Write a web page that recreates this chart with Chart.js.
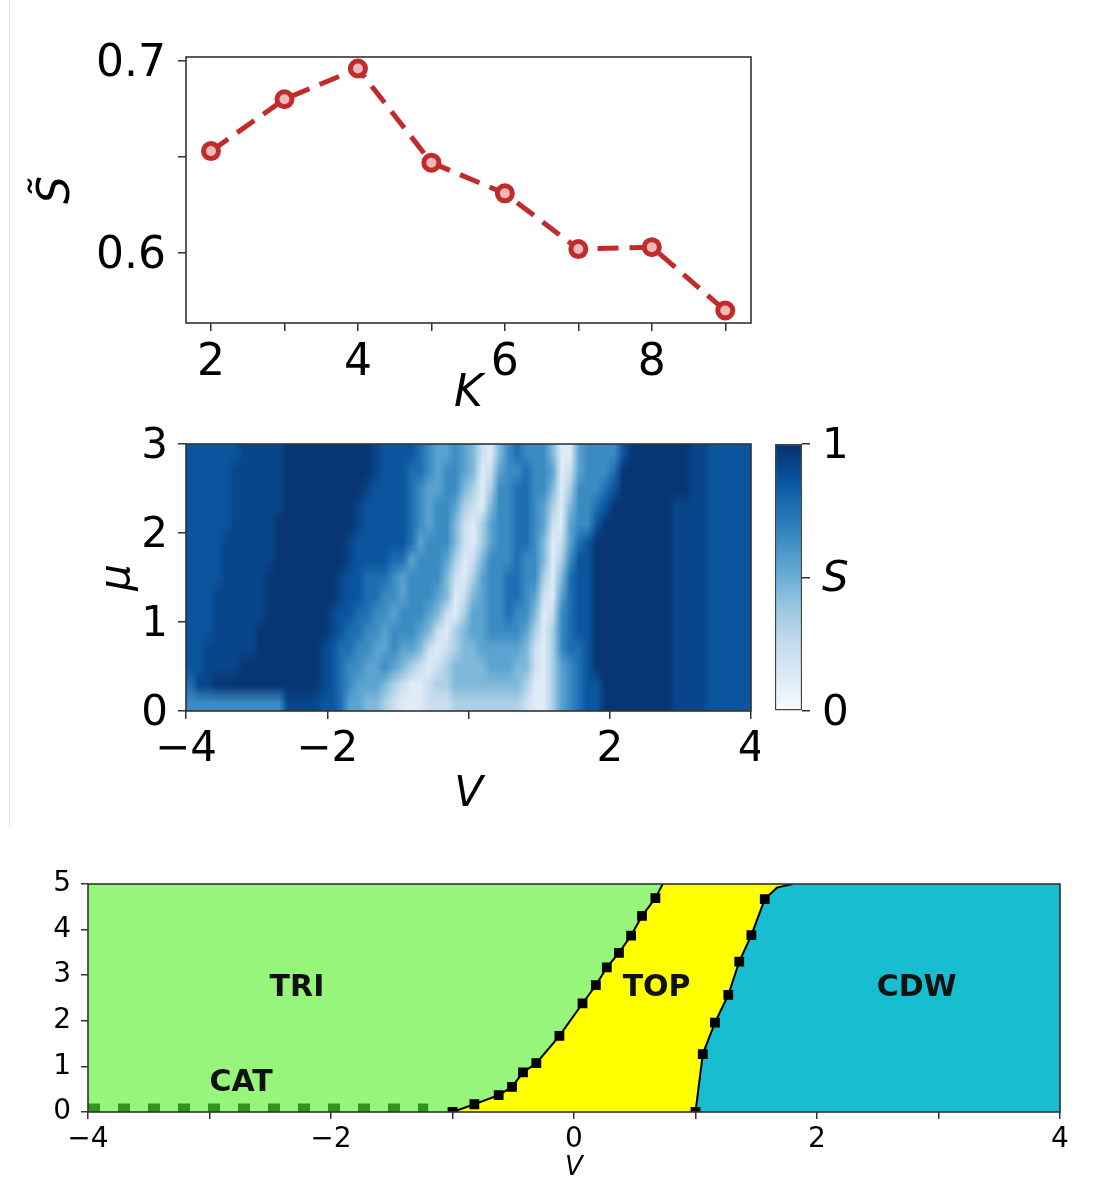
<!DOCTYPE html>
<html>
<head>
<meta charset="utf-8">
<script src="https://cdn.jsdelivr.net/npm/chart.js@4.4.1/dist/chart.umd.min.js"></script>
<style>
  html, body { margin: 0; padding: 0; background: #fff; }
  body { width: 1095px; height: 1190px; position: relative; overflow: hidden; }
  canvas { position: absolute; }
  #edge { position: absolute; left: 9px; top: 0; height: 828px; border-left: 1px solid #e6e6e6; }
</style>
</head>
<body>
<div id="edge"></div>
<canvas id="c1" width="860" height="420" style="left:0;top:0"></canvas>
<canvas id="heat" width="64" height="15" style="left:186px;top:444px;width:565px;height:267px"></canvas>
<canvas id="c2" width="760" height="420" style="left:0;top:420px"></canvas>
<canvas id="c2bar" width="140" height="420" style="left:760px;top:420px"></canvas>
<canvas id="c3" width="1095" height="350" style="left:0;top:840px"></canvas>
<script>
'use strict';

// ---- top panel: S~ vs K
let kValues = [2, 3, 4, 5, 6, 7, 8, 9];
let sTilde = [0.653, 0.680, 0.696, 0.647, 0.631, 0.602, 0.603, 0.570];
let kTicks = [2, 3, 4, 5, 6, 7, 8, 9];
let sTicks = [0.6, 0.65, 0.7];

// ---- middle panel: S(V, mu) heat map
let heatMu = [0.0, 0.2, 0.4, 0.6, 0.8, 1.0, 1.2, 1.4, 1.6, 1.8, 2.0, 2.2, 2.4, 2.6, 2.8]; // row bottoms
let heatMuStep = 0.2;
let heatVStep = 0.125;
let heatCodes = '0123456789a';
let heatLevels = [0.03, 0.12, 0.22, 0.33, 0.45, 0.55, 0.65, 0.76, 0.86, 0.98, 0.92]; // S for each code
// S codes, top row first, one group of 8 cells per unit of V
let heatRows = [
    '888888aa aaa99999 99999a88 88765565 42146766 64115666 68999999 9aa88888',
    '88888aaa aaa99999 99999a88 87765665 41256676 65125666 79999999 9aa88888',
    '88888aaa aaa99999 9999a888 87655664 31366776 64136667 89999999 9aa88888',
    '88888aaa aaa99999 999a8888 87656653 21466776 53146678 9999999a aaa88888',
    '88888aaa aa999999 999a8888 87656642 13566776 52156689 9999999a aaa88888',
    '8888aaaa aa999999 99a88888 87566642 13566776 41257899 9999999a aaa88888',
    '8888aaaa aa999999 99a88887 75666531 24666766 41368899 9999999a aaa88888',
    '8888aaaa a9999999 9a887776 56666421 35667766 31478899 9999999a aaa88888',
    '888aaaaa a9999999 9a887766 56665412 45667765 21578899 9999999a aaa88888',
    '888aaaaa a9999999 a8877665 66654213 55667664 12678899 9999999a aaa88888',
    '888aaaaa 99999999 a8776656 66542134 55666653 13678899 9999999a aaa88888',
    '88aaaaaa 9999999a 87766556 55421234 45555542 13677899 9999999a aaa88888',
    '88aaaa99 9999999a 87665565 43212344 44555442 13567899 9999999a aaa88888',
    '7aa99999 9999999a 87655543 21123344 44444431 13567889 9999999a aaa88888',
    '66666666 666aaaa8 87554432 11122233 33333321 13567889 9999999a aaa88888'
];
let heatVTicks = [-4, -2, 0, 2, 4];
let heatMuTicks = [0, 1, 2, 3];
let barTicks = [0, 0.5, 1];

// ---- bottom panel: phase diagram
let leftV = [-1.0, -0.82, -0.62, -0.51, -0.42, -0.31, -0.12, 0.07, 0.18, 0.27, 0.37, 0.47, 0.56, 0.67];
let leftMu = [0.0, 0.17, 0.37, 0.55, 0.87, 1.07, 1.67, 2.38, 2.78, 3.17, 3.49, 3.87, 4.30, 4.69];
let leftTopV = [0.73];
let leftTopMu = [5.0];
let rightV = [1.0, 1.06, 1.16, 1.27, 1.36, 1.46, 1.57];
let rightMu = [0.0, 1.27, 1.96, 2.57, 3.30, 3.88, 4.67];
let rightTopV = [1.67, 1.8];
let rightTopMu = [4.92, 5.0];
let catV = [-4, -1.2];
let catMu = [0.09, 0.09];
let labelText = ['TRI', 'TOP', 'CDW', 'CAT'];
let labelV = [-2.28, 0.68, 2.82, -2.74];
let labelMu = [2.72, 2.72, 2.72, 0.64];
let phaseVTicks = [-4, -3, -2, -1, 0, 1, 2, 3, 4];
let phaseMuTicks = [0, 1, 2, 3, 4, 5];

Chart.defaults.font.family = "'DejaVu Sans', sans-serif";
Chart.defaults.color = '#000';

let blueStops = ['#f7fbff', '#deebf7', '#c6dbef', '#9ecae1', '#6baed6', '#4292c6', '#2171b5', '#08519c', '#08306b'];

function hex(h) {
    return [parseInt(h.slice(1, 3), 16), parseInt(h.slice(3, 5), 16), parseInt(h.slice(5, 7), 16)];
}
function blues(t) {
    let p = Math.max(0, Math.min(1, t)) * (blueStops.length - 1);
    let i = Math.min(Math.floor(p), blueStops.length - 2);
    let f = p - i;
    let a = hex(blueStops[i]), b = hex(blueStops[i + 1]);
    let c = a.map((v, n) => Math.round(v + (b[n] - v) * f));
    return `rgb(${c[0]},${c[1]},${c[2]})`;
}
function minus(v) {
    return v < 0 ? '\u2212' + Math.abs(v) : String(v);
}
// fixed axis box size, no extra room for overhanging labels
function fixBox(size) {
    return s => {
        if (s.isHorizontal()) s.height = size; else s.width = size;
        s.paddingTop = 0; s.paddingBottom = 0; s.paddingLeft = 0; s.paddingRight = 0;
    };
}

let framePlugin = {
    id: 'frame',
    afterDatasetsDraw(chart) {
        let a = chart.chartArea;
        let ctx = chart.ctx;
        ctx.save();
        ctx.strokeStyle = '#333';
        ctx.lineWidth = 1.6;
        ctx.strokeRect(a.left, a.top, a.right - a.left, a.bottom - a.top);
        ctx.restore();
    }
};

let tickGrid = { drawOnChartArea: false, drawTicks: true, tickLength: 8, color: '#333', lineWidth: 1.5 };

// ---------- top chart
new Chart(document.getElementById('c1'), {
    type: 'line',
    data: {
        datasets: [{
            data: kValues.map((k, i) => ({ x: k, y: sTilde[i] })),
            borderColor: '#c22b2b',
            borderWidth: 5,
            borderDash: [21, 11],
            pointRadius: 7.5,
            pointBorderWidth: 5,
            pointBackgroundColor: '#f0b8b8',
            pointBorderColor: '#c22b2b',
            tension: 0
        }]
    },
    options: {
        responsive: false, animation: false, events: [], devicePixelRatio: 1,
        layout: { padding: { top: 57, right: 109, left: 0, bottom: 0 } },
        plugins: { legend: { display: false }, tooltip: { enabled: false } },
        scales: {
            x: {
                type: 'linear', min: 1.66, max: 9.35,
                afterFit: fixBox(97),
                afterBuildTicks: s => { s.ticks = kTicks.map(v => ({ value: v })); },
                ticks: { callback: v => (v % 2 === 0 ? String(v) : ''), font: { size: 44 }, padding: 6, autoSkip: false, maxRotation: 0 },
                grid: tickGrid, border: { display: false },
                title: { display: true, text: 'K', font: { size: 44, style: 'italic', lineHeight: 1 }, padding: { top: 0, bottom: 3 } }
            },
            y: {
                min: 0.5635, max: 0.702,
                afterFit: fixBox(186),
                afterBuildTicks: s => { s.ticks = sTicks.map(v => ({ value: v })); },
                ticks: { callback: v => (v === 0.65 ? '' : v.toFixed(1)), font: { size: 44 }, padding: 12, labelOffset: 4, autoSkip: false },
                grid: tickGrid, border: { display: false },
                title: { display: true, text: 'S\u0303', font: { size: 44, style: 'italic', lineHeight: 1 }, padding: { top: 36, bottom: 0 } }
            }
        }
    },
    plugins: [framePlugin]
});

// ---------- heat map axes (transparent plot area)
let heatAxes = new Chart(document.getElementById('c2'), {
    type: 'line',
    data: { datasets: [] },
    options: {
        responsive: false, animation: false, events: [], devicePixelRatio: 1,
        layout: { padding: { top: 24, right: 9, left: 0, bottom: 0 } },
        plugins: { legend: { display: false }, tooltip: { enabled: false } },
        scales: {
            x: {
                type: 'linear', min: -4, max: 4,
                afterFit: fixBox(129),
                afterBuildTicks: s => { s.ticks = heatVTicks.map(v => ({ value: v })); },
                ticks: { callback: v => (v === 0 ? '' : minus(v)), font: { size: 42 }, padding: 6, autoSkip: false, maxRotation: 0 },
                grid: tickGrid, border: { display: false },
                title: { display: true, text: 'V', font: { size: 42, style: 'italic', lineHeight: 1 }, padding: { top: 0, bottom: 24 } }
            },
            y: {
                type: 'linear', min: 0, max: 3,
                afterFit: fixBox(186),
                afterBuildTicks: s => { s.ticks = heatMuTicks.map(v => ({ value: v })); },
                ticks: { font: { size: 42 }, padding: 10, labelOffset: 3, autoSkip: false },
                grid: tickGrid, border: { display: false },
                title: { display: true, text: '\u03bc', font: { size: 42, style: 'italic', lineHeight: 1 }, padding: { top: 97, bottom: 0 } }
            }
        }
    },
    plugins: [framePlugin]
});

// ---------- heat map cells: one pixel per cell, stretched smoothly under the axes
let heatV = [];
for (let k = 0; k < 64; k++) heatV.push(-4 + heatVStep * (k + 0.5));

let heatDatasets = heatRows.map((row, r) => {
    let codes = row.replace(/ /g, '').split('').map(ch => heatCodes.indexOf(ch));
    let mu0 = heatMu[heatMu.length - 1 - r];
    return {
        data: codes.map((d, k) => ({ x: heatV[k], y: [mu0, mu0 + heatMuStep] })),
        backgroundColor: codes.map(d => blues(heatLevels[d])),
        borderWidth: 0,
        inflateAmount: 0,
        grouped: false,
        barPercentage: 1,
        categoryPercentage: 1
    };
});

new Chart(document.getElementById('heat'), {
    type: 'bar',
    data: { datasets: heatDatasets },
    options: {
        responsive: false, animation: false, events: [], devicePixelRatio: 1,
        layout: { padding: 0 },
        plugins: { legend: { display: false }, tooltip: { enabled: false } },
        scales: {
            x: { type: 'linear', min: -4, max: 4, offset: false, display: false },
            y: { type: 'linear', min: 0, max: 3, display: false }
        }
    }
});

let area = heatAxes.chartArea;
let heatCanvas = document.getElementById('heat');
heatCanvas.style.left = area.left + 'px';
heatCanvas.style.top = (420 + area.top) + 'px';
heatCanvas.style.width = (area.right - area.left) + 'px';
heatCanvas.style.height = (area.bottom - area.top) + 'px';

// ---------- colour bar
new Chart(document.getElementById('c2bar'), {
    type: 'bar',
    data: {
        labels: ['S'],
        datasets: [{
            data: [[0, 1]],
            backgroundColor: ctx => {
                let a = ctx.chart.chartArea;
                if (!a) return blues(0.5);
                let g = ctx.chart.ctx.createLinearGradient(0, a.bottom, 0, a.top);
                blueStops.forEach((c, i) => g.addColorStop(i / (blueStops.length - 1), c));
                return g;
            },
            borderColor: '#444',
            borderWidth: 1.5,
            borderSkipped: false,
            barPercentage: 1,
            categoryPercentage: 1
        }]
    },
    options: {
        responsive: false, animation: false, events: [], devicePixelRatio: 1,
        layout: { padding: { top: 24, right: 0, left: 15, bottom: 129 } },
        plugins: { legend: { display: false }, tooltip: { enabled: false } },
        scales: {
            x: { display: false },
            y: {
                position: 'right', min: 0, max: 1,
                afterFit: fixBox(98),
                afterBuildTicks: s => { s.ticks = barTicks.map(v => ({ value: v })); },
                ticks: {
                    callback: v => (v === 0.5 ? 'S' : String(v)),
                    font: c => (c.tick && c.tick.value === 0.5 ? { size: 42, style: 'italic' } : { size: 42 }),
                    padding: 12, labelOffset: 3, autoSkip: false
                },
                grid: tickGrid, border: { display: false }
            }
        }
    }
});

// ---------- phase diagram
function pts(vs, ms) {
    return vs.map((v, i) => ({ x: v, y: ms[i] }));
}
let leftLine = pts(leftV, leftMu).concat(pts(leftTopV, leftTopMu));
let rightLine = pts(rightV, rightMu).concat(pts(rightTopV, rightTopMu));

let regionLabels = {
    id: 'regionLabels',
    afterDatasetsDraw(chart) {
        let ctx = chart.ctx;
        let x = chart.scales.x, y = chart.scales.y;
        ctx.save();
        ctx.font = "bold 30px 'DejaVu Sans'";
        ctx.fillStyle = '#111';
        ctx.textAlign = 'center';
        ctx.textBaseline = 'middle';
        labelText.forEach((t, i) => ctx.fillText(t, x.getPixelForValue(labelV[i]), y.getPixelForValue(labelMu[i])));
        ctx.restore();
    }
};

function fillSet(points, color) {
    return { data: points, fill: 'end', backgroundColor: color, borderColor: 'transparent', borderWidth: 0, pointRadius: 0, tension: 0 };
}

new Chart(document.getElementById('c3'), {
    type: 'line',
    data: {
        datasets: [
            {
                data: leftLine, borderColor: '#000', borderWidth: 2, tension: 0, fill: false,
                pointStyle: 'rect', pointRadius: leftLine.map((p, i) => (i < leftV.length ? 5.5 : 0)),
                pointBackgroundColor: '#000', pointBorderColor: '#000'
            },
            {
                data: rightLine, borderColor: '#000', borderWidth: 2, tension: 0, fill: false,
                pointStyle: 'rect', pointRadius: rightLine.map((p, i) => (i < rightV.length ? 5.5 : 0)),
                pointBackgroundColor: '#000', pointBorderColor: '#000'
            },
            {
                data: pts(catV, catMu), borderColor: '#2f951c', borderWidth: 9, borderDash: [12, 18],
                borderCapStyle: 'butt', pointRadius: 0, fill: false
            },
            fillSet([{ x: -4, y: 0 }].concat(leftLine, [{ x: 4, y: 5 }]), '#97f57c'),
            fillSet([{ x: -4, y: 0 }].concat(rightLine, [{ x: 4, y: 5 }]), '#ffff00'),
            fillSet([{ x: -4, y: 0 }, { x: 4, y: 0 }], '#17becf')
        ]
    },
    options: {
        responsive: false, animation: false, events: [], devicePixelRatio: 1,
        layout: { padding: { top: 44, right: 35, left: 0, bottom: 0 } },
        plugins: { legend: { display: false }, tooltip: { enabled: false } },
        scales: {
            x: {
                type: 'linear', min: -4, max: 4,
                afterFit: fixBox(78),
                afterBuildTicks: s => { s.ticks = phaseVTicks.map(v => ({ value: v })); },
                ticks: { callback: v => (v % 2 === 0 ? minus(v) : ''), font: { size: 28 }, padding: 4, autoSkip: false, maxRotation: 0 },
                grid: Object.assign({}, tickGrid, { tickLength: 7 }), border: { display: false },
                title: { display: true, text: 'V', font: { size: 26, style: 'italic', lineHeight: 1 }, padding: { top: 0, bottom: 9 } }
            },
            y: {
                type: 'linear', min: 0, max: 5,
                afterFit: fixBox(88),
                afterBuildTicks: s => { s.ticks = phaseMuTicks.map(v => ({ value: v })); },
                ticks: { font: { size: 28 }, padding: 10, autoSkip: false },
                grid: Object.assign({}, tickGrid, { tickLength: 7 }), border: { display: false }
            }
        }
    },
    plugins: [framePlugin, regionLabels]
});
</script>
</body>
</html>
